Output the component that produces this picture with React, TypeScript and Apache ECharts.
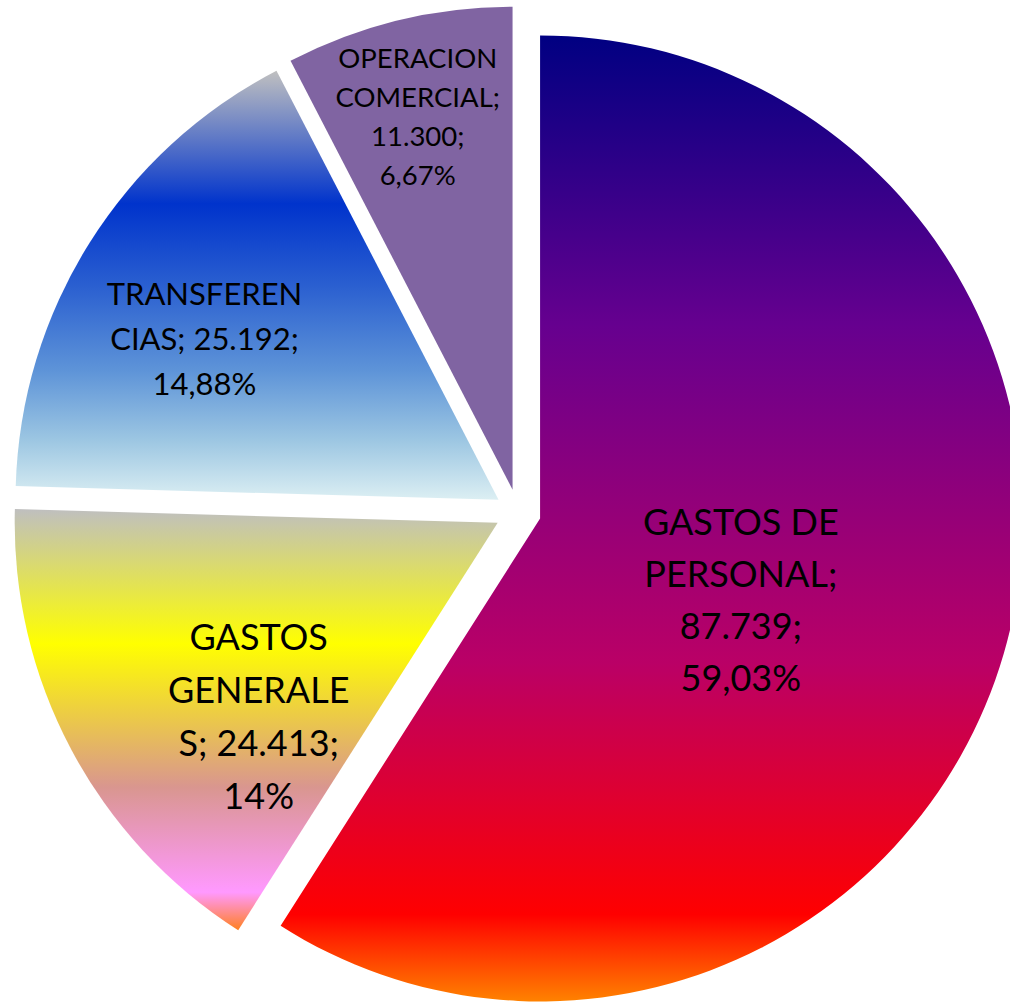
import React, { useEffect, useRef } from "react";
import * as echarts from "echarts";

const categories = ["GASTOS DE PERSONAL", "GASTOS GENERALES", "TRANSFERENCIAS", "OPERACION COMERCIAL"];
const values = [87739, 24413, 25192, 11300];
const labelTexts = [
  "GASTOS DE\nPERSONAL;\n87.739;\n59,03%",
  "GASTOS\nGENERALE\nS; 24.413;\n14%",
  "TRANSFEREN\nCIAS; 25.192;\n14,88%",
  "OPERACION\nCOMERCIAL;\n11.300;\n6,67%",
];

const fills: any[] = [
  {
    type: "linear", x: 0, y: 0, x2: 0, y2: 1,
    colorStops: [
      { offset: 0, color: "#000082" },
      { offset: 0.3, color: "#66008F" },
      { offset: 0.65, color: "#BA0066" },
      { offset: 0.91, color: "#FF0000" },
      { offset: 1, color: "#FF8200" },
    ],
  },
  {
    type: "linear", x: 0, y: 0, x2: 0, y2: 1,
    colorStops: [
      { offset: 0, color: "#bfbfbf" },
      { offset: 0.32, color: "#ffff00" },
      { offset: 0.5, color: "#ebc84a" },
      { offset: 0.66, color: "#d9968f" },
      { offset: 0.91, color: "#ff99ff" },
      { offset: 1, color: "#ff8020" },
    ],
  },
  {
    type: "linear", x: 0, y: 0, x2: 0, y2: 1,
    colorStops: [
      { offset: 0, color: "#c0c0c0" },
      { offset: 0.31, color: "#0033cc" },
      { offset: 0.5, color: "#2a5fd0" },
      { offset: 0.7, color: "#5e94d8" },
      { offset: 0.86, color: "#9cc6e2" },
      { offset: 1, color: "#dceff3" },
    ],
  },
  "#8064A2",
];

const labelFont = [
  { size: 36, lh: 52 },
  { size: 36, lh: 53 },
  { size: 31, lh: 45 },
  { size: 27.5, lh: 39 },
];
const labelShift = [
  { dx: -34, dy: 12 },
  { dx: -23, dy: 78 },
  { dx: -87, dy: -32 },
  { dx: -37, dy: -136 },
];

export default function App() {
  const ref = useRef<HTMLDivElement>(null);
  useEffect(() => {
    if (!ref.current) return;
    const chart = echarts.init(ref.current, null, { renderer: "svg" });
    chart.setOption({
      animation: false,
      backgroundColor: "#ffffff",
      series: [
        {
          type: "pie",
          center: [518, 512],
          radius: [0, 483],
          startAngle: 90,
          clockwise: true,
          selectedMode: "multiple",
          selectedOffset: 23,
          avoidLabelOverlap: false,
          emphasis: { disabled: true },
          select: { itemStyle: { borderWidth: 0 } },
          itemStyle: { borderWidth: 0 },
          labelLine: { show: false },
          label: {
            show: true,
            position: "inside",
            color: "#000000",
            fontFamily: "Lato",
            align: "center",
          },
          labelLayout: (p: any) => ({ dx: labelShift[p.dataIndex].dx, dy: labelShift[p.dataIndex].dy }),
          data: categories.map((name, i) => ({
            name,
            value: values[i],
            selected: true,
            itemStyle: { color: fills[i] },
            label: {
              formatter: labelTexts[i],
              fontSize: labelFont[i].size,
              lineHeight: labelFont[i].lh,
            },
          })),
        },
      ],
    });
    return () => chart.dispose();
  }, []);
  return (
    <div
      ref={ref}
      style={{ position: "absolute", left: 0, top: 0, width: 1010, height: 1002 }}
    />
  );
}
